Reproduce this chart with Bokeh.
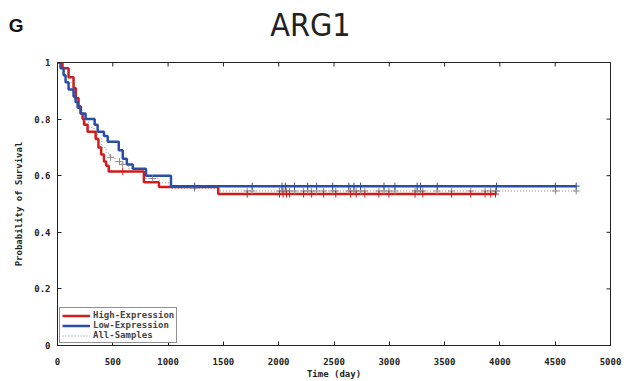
import math
from bokeh.plotting import figure
from bokeh.layouts import column
from bokeh.models import FixedTicker, Range1d, Legend, LegendItem, Label, LinearAxis
from bokeh.embed import file_html
from bokeh.resources import INLINE

# ---- data ----
high_t = [0, 45, 100, 145, 165, 190, 210, 227, 240, 272, 345, 370, 395, 420, 440, 463, 781, 917, 1453]
high_s = [1.0, 0.98, 0.948, 0.91, 0.875, 0.845, 0.82, 0.80, 0.78, 0.755, 0.73, 0.70, 0.675, 0.65, 0.635, 0.615, 0.577, 0.56, 0.535]
high_end = 3960

low_t = [0, 27, 55, 73, 100, 145, 163, 182, 209, 254, 336, 363, 420, 454, 554, 590, 627, 681, 800, 1026]
low_s = [1.0, 0.98, 0.955, 0.93, 0.905, 0.88, 0.86, 0.84, 0.82, 0.80, 0.78, 0.755, 0.74, 0.72, 0.69, 0.66, 0.64, 0.625, 0.60, 0.563]
low_end = 4690

all_t = [0, 30, 60, 100, 145, 170, 195, 220, 250, 280, 330, 360, 400, 440, 470, 520, 580, 640, 700, 790, 920, 1030, 1453]
all_s = [1.0, 0.98, 0.96, 0.93, 0.90, 0.87, 0.845, 0.82, 0.79, 0.77, 0.75, 0.73, 0.70, 0.68, 0.665, 0.65, 0.64, 0.625, 0.615, 0.59, 0.575, 0.556, 0.546]
all_end = 4690

high_cens = [590, 1715, 2007, 2040, 2070, 2098, 2225, 2298, 2406, 2516, 2650, 2700, 2779,
             2906, 2997, 3233, 3303, 3563, 3736, 3866, 3917, 3960]
low_cens = [1240, 1760, 2030, 2060, 2143, 2262, 2343, 2488, 2634, 2680, 2740, 2952, 3051,
            3252, 3282, 3433, 3969, 4502, 4690]
all_cens = sorted(set(high_cens + low_cens + [480, 560, 860]))

x_ticks = [0, 500, 1000, 1500, 2000, 2500, 3000, 3500, 4000, 4500, 5000]
y_ticks = [0, 0.2, 0.4, 0.6, 0.8, 1]
y_labels = {0: "0", 0.2: "0.2", 0.4: "0.4", 0.6: "0.6", 0.8: "0.8", 1: "1"}

title_text = "ARG1"
panel_text = "G"

RED = "#d01c1c"
BLUE = "#2a4ea6"
GREY = "#8c8c8c"
MONO = "DejaVu Sans Mono"
INK = "#222222"

HEAD_H = 50
LEFT, RIGHT = 57, 16


def surv_at(ts, ss, t):
    v = ss[0]
    for ti, si in zip(ts, ss):
        if ti <= t:
            v = si
    return v


# ---- header strip: title inside its frame, panel letter as a horizontal axis label ----
head = figure(width=626, height=HEAD_H, output_backend="svg", toolbar_location=None,
              x_range=Range1d(0, 1), y_range=Range1d(0, 1),
              min_border_left=LEFT, min_border_right=RIGHT, min_border_top=0, min_border_bottom=0)
head.axis.visible = False
head.grid.visible = False
head.outline_line_color = None
head.background_fill_color = "white"
head.border_fill_color = "white"
head.add_layout(Label(x=310 - LEFT, y=26, x_units="screen", y_units="screen", text=title_text,
                      text_align="center", text_baseline="alphabetic",
                      text_font="DejaVu Sans Condensed", text_font_size="32px",
                      text_color="#222222"))

if "axis_label_orientation" in LinearAxis.properties():
    g_axis = LinearAxis(ticker=FixedTicker(ticks=[]), axis_label=panel_text)
    g_axis.axis_line_color = None
    g_axis.major_tick_line_color = None
    g_axis.minor_tick_line_color = None
    g_axis.axis_label_orientation = "horizontal"
    g_axis.axis_label_standoff = 34
    g_axis.axis_label_text_font = "Liberation Sans"
    g_axis.axis_label_text_font_style = "bold"
    g_axis.axis_label_text_font_size = "19px"
    g_axis.axis_label_text_color = "#111111"
    head.add_layout(g_axis, "left")

# ---- survival plot ----
p = figure(width=626, height=381 - HEAD_H, output_backend="svg", toolbar_location=None,
           x_range=Range1d(0, 5000), y_range=Range1d(0, 1),
           min_border_left=LEFT, min_border_right=RIGHT, min_border_top=62 - HEAD_H, min_border_bottom=33)
p.background_fill_color = "white"
p.border_fill_color = "white"
p.xgrid.visible = False
p.ygrid.visible = False
p.outline_line_color = INK
p.outline_line_width = 1

r_all = p.step(all_t + [all_end], all_s + [all_s[-1]], mode="after", line_color=GREY,
               line_width=1, line_dash="1 2")
r_high = p.step(high_t + [high_end], high_s + [high_s[-1]], mode="after", line_color=RED, line_width=2.5)
r_low = p.step(low_t + [low_end], low_s + [low_s[-1]], mode="after", line_color=BLUE, line_width=2.5)

p.scatter(all_cens, [surv_at(all_t, all_s, t) for t in all_cens], marker="cross", size=7,
          line_color=GREY, line_width=1)
p.scatter(high_cens, [surv_at(high_t, high_s, t) for t in high_cens], marker="cross", size=7,
          line_color=RED, line_width=1)
p.scatter(low_cens, [surv_at(low_t, low_s, t) for t in low_cens], marker="cross", size=7,
          line_color=BLUE, line_width=1)

# mirror ticks on top and right edges (half of each dash is clipped by the frame)
p.scatter(x_ticks, [1] * len(x_ticks), marker="dash", angle=math.pi / 2, size=8,
          line_color=INK, line_width=1)
p.scatter([5000] * len(y_ticks), y_ticks, marker="dash", size=8, line_color=INK, line_width=1)

p.xaxis.ticker = FixedTicker(ticks=x_ticks)
p.yaxis.ticker = FixedTicker(ticks=y_ticks)
p.yaxis.major_label_overrides = y_labels
for ax in p.xaxis + p.yaxis:
    ax.axis_line_color = None
    ax.major_tick_in = 4
    ax.major_tick_out = 0
    ax.minor_tick_line_color = None
    ax.major_tick_line_color = INK
    ax.major_label_text_font = MONO
    ax.major_label_text_font_style = "bold"
    ax.major_label_text_font_size = "9px"
    ax.major_label_text_color = INK
    ax.axis_label_text_font = MONO
    ax.axis_label_text_font_style = "bold"
    ax.axis_label_text_font_size = "9px"
    ax.axis_label_text_color = INK
p.xaxis.major_label_standoff = 12
p.yaxis.major_label_standoff = 7
p.xaxis.axis_label = "Time (day)"
p.yaxis.axis_label = "Probability of Survival"
p.xaxis.axis_label_standoff = 1
p.yaxis.axis_label_standoff = 7

legend = Legend(items=[LegendItem(label="High-Expression", renderers=[r_high]),
                       LegendItem(label="Low-Expression", renderers=[r_low]),
                       LegendItem(label="All-Samples", renderers=[r_all])],
                location="bottom_left")
legend.label_text_font = MONO
legend.label_text_font_style = "bold"
legend.label_text_font_size = "9px"
legend.label_height = 9
legend.glyph_height = 9
legend.glyph_width = 28
legend.label_standoff = 3
legend.spacing = 0
legend.padding = 2
legend.margin = 2
legend.border_line_color = INK
legend.border_line_width = 1
legend.background_fill_alpha = 1
p.add_layout(legend)

layout = column(head, p, spacing=0)
open("out.html", "w").write(file_html(layout, INLINE))
